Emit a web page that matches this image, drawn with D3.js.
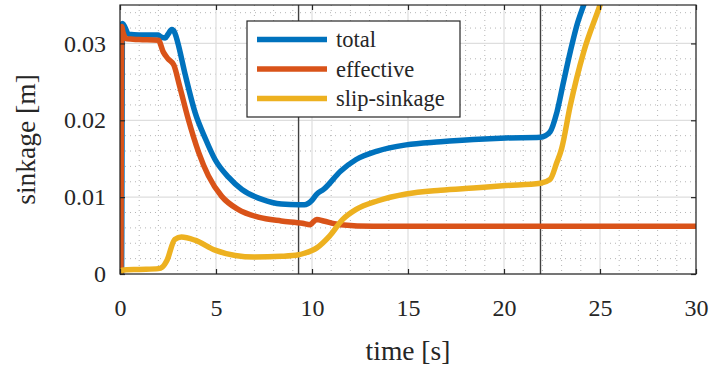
<!DOCTYPE html>
<html>
<head>
<meta charset="utf-8">
<script src="https://cdn.jsdelivr.net/npm/d3@7"></script>
<style>
	body { margin: 0; background: #fff; }
</style>
</head>
<body>
<div id="chart"></div>
<script>
// sinkage over time
const totalTime = [0, 0.08, 0.13, 0.45, 1.0, 2.0, 2.1, 2.35, 2.5, 2.7, 2.85, 3.0, 3.4, 3.9, 4.45, 4.95, 5.65, 6.35, 7.4, 8.4, 9.3, 9.6, 10.0, 10.25, 10.6, 11.5, 12.3, 13.4, 14.9, 16.7, 18.4, 20.1, 21.9, 22.4, 22.75, 23.1, 23.45, 23.8, 24.15, 24.4];
const totalVal = [0, 0, 0.0326, 0.0312, 0.0311, 0.0311, 0.0309, 0.0307, 0.0312, 0.0318, 0.0314, 0.0302, 0.0259, 0.0211, 0.0176, 0.0149, 0.0126, 0.011, 0.0097, 0.0091, 0.009, 0.009, 0.0096, 0.0104, 0.011, 0.0134, 0.0149, 0.016, 0.0168, 0.0172, 0.0175, 0.0177, 0.0178, 0.0185, 0.021, 0.025, 0.0289, 0.0324, 0.035, 0.0368];

const effTime = [0.05, 0.1, 0.15, 0.35, 1.0, 2.0, 2.25, 2.5, 2.8, 3.1, 3.55, 4.1, 4.6, 5.3, 6.15, 7.2, 8.4, 9.5, 9.9, 10.0, 10.25, 10.6, 11.5, 13.2, 16, 20, 25, 30];
const effVal = [0, 0.0322, 0.0315, 0.0306, 0.0305, 0.0304, 0.0289, 0.028, 0.0272, 0.0245, 0.0202, 0.0158, 0.0128, 0.0101, 0.0084, 0.0074, 0.0069, 0.0066, 0.0064, 0.0066, 0.0071, 0.0069, 0.0064, 0.0062, 0.0062, 0.0062, 0.0062, 0.0062];

const slipTime = [0, 0.1, 1.0, 2.0, 2.2, 2.45, 2.85, 3.2, 3.9, 4.95, 6.0, 7.0, 8.4, 9.3, 9.6, 10.25, 10.9, 11.6, 12.3, 13.4, 14.9, 16.7, 18.4, 20.1, 21.9, 22.4, 22.75, 23.0, 23.45, 24.15, 25.0, 25.2];
const slipVal = [0, 0.0005, 0.0006, 0.0007, 0.0009, 0.0018, 0.0045, 0.0048, 0.0044, 0.0031, 0.0024, 0.0022, 0.0023, 0.0025, 0.0027, 0.0034, 0.0049, 0.0071, 0.0084, 0.0095, 0.0104, 0.0109, 0.0112, 0.0115, 0.0118, 0.0123, 0.0145, 0.0163, 0.0219, 0.0289, 0.035, 0.0365];

const seriesNames = ['total', 'effective', 'slip-sinkage'];
const seriesColors = ['#0072BD', '#D95319', '#EDB120'];
const xTicks = [0, 5, 10, 15, 20, 25, 30];
const yTicks = [0, 0.01, 0.02, 0.03];
const markerTimes = [9.3, 21.9]; // the two vertical lines

const FONT = "'Liberation Serif', 'Times New Roman', serif";
const width = 710, height = 367;
const margin = { top: 5, right: 14, bottom: 93, left: 120 };
const iw = width - margin.left - margin.right;
const ih = height - margin.top - margin.bottom;

const svg = d3.select('#chart').append('svg').attr('width', width).attr('height', height);
const g = svg.append('g').attr('transform', `translate(${margin.left},${margin.top})`);

const x = d3.scaleLinear().domain([0, 30]).range([0, iw]);
const y = d3.scaleLinear().domain([0, 0.035]).range([ih, 0]);

// minor grid (dotted)
const xMinor = d3.range(1, 30).filter((d) => d % 5 !== 0);
const yMinor = d3.range(1, 18).map((d) => d * 0.002).filter((d) => Math.round(d * 1000) % 10 !== 0);
g.append('g')
	.selectAll('line')
	.data(xMinor)
	.join('line')
	.attr('x1', (d) => x(d)).attr('x2', (d) => x(d))
	.attr('y1', 0).attr('y2', ih)
	.attr('stroke', '#b5b5b5').attr('stroke-width', 1).attr('stroke-dasharray', '1,4');
g.append('g')
	.selectAll('line')
	.data(yMinor)
	.join('line')
	.attr('x1', 0).attr('x2', iw)
	.attr('y1', (d) => y(d)).attr('y2', (d) => y(d))
	.attr('stroke', '#b5b5b5').attr('stroke-width', 1).attr('stroke-dasharray', '1,4');

// major grid
g.append('g')
	.selectAll('line')
	.data(xTicks)
	.join('line')
	.attr('x1', (d) => x(d)).attr('x2', (d) => x(d))
	.attr('y1', 0).attr('y2', ih)
	.attr('stroke', '#dedede').attr('stroke-width', 1.2);
g.append('g')
	.selectAll('line')
	.data(yTicks)
	.join('line')
	.attr('x1', 0).attr('x2', iw)
	.attr('y1', (d) => y(d)).attr('y2', (d) => y(d))
	.attr('stroke', '#dedede').attr('stroke-width', 1.2);

// vertical marker lines
g.append('g')
	.selectAll('line')
	.data(markerTimes)
	.join('line')
	.attr('x1', (d) => x(d)).attr('x2', (d) => x(d))
	.attr('y1', 0).attr('y2', ih)
	.attr('stroke', '#404040').attr('stroke-width', 1.4);

// curves
svg.append('defs').append('clipPath').attr('id', 'clip')
	.append('rect').attr('width', iw).attr('height', ih);

const series = [
	{ t: totalTime, v: totalVal },
	{ t: effTime, v: effVal },
	{ t: slipTime, v: slipVal }
];
const line = d3.line()
	.x((d) => x(d[0]))
	.y((d) => y(d[1]))
	.curve(d3.curveMonotoneX);

g.append('g')
	.attr('clip-path', 'url(#clip)')
	.selectAll('path')
	.data(series)
	.join('path')
	.attr('d', (s) => line(s.t.map((t, i) => [t, s.v[i]])))
	.attr('fill', 'none')
	.attr('stroke', (s, i) => seriesColors[i])
	.attr('stroke-width', 5.5)
	.attr('stroke-linejoin', 'round')
	.attr('stroke-linecap', 'round');

// axes, ticks pointing inward like matlab
const fmtY = (d) => (d === 0 ? '0' : d3.format('.2f')(d));
g.append('g')
	.attr('transform', `translate(0,${ih})`)
	.call(d3.axisBottom(x).tickValues(xTicks).tickSize(-5).tickSizeOuter(0).tickPadding(25))
	.call((a) => a.select('.domain').remove());
g.append('g')
	.call(d3.axisLeft(y).tickValues(yTicks).tickFormat(fmtY).tickSize(-5).tickSizeOuter(0).tickPadding(14))
	.call((a) => a.select('.domain').remove());
g.append('g')
	.call(d3.axisTop(x).tickValues(xTicks).tickFormat('').tickSize(-5).tickSizeOuter(0))
	.call((a) => a.select('.domain').remove());
g.append('g')
	.attr('transform', `translate(${iw},0)`)
	.call(d3.axisRight(y).tickValues(yTicks).tickFormat('').tickSize(-5).tickSizeOuter(0))
	.call((a) => a.select('.domain').remove());

g.selectAll('.tick line').attr('stroke', '#262626').attr('stroke-width', 1.2);
g.selectAll('.tick text').attr('font-size', 24);

g.append('rect')
	.attr('width', iw).attr('height', ih)
	.attr('fill', 'none').attr('stroke', '#262626').attr('stroke-width', 1.2);

// axis labels
svg.append('text')
	.attr('x', margin.left + iw / 2)
	.attr('y', 360)
	.attr('text-anchor', 'middle')
	.attr('font-size', 27.5)
	.text('time [s]');
svg.append('text')
	.attr('transform', `translate(35,${margin.top + ih / 2}) rotate(-90)`)
	.attr('text-anchor', 'middle')
	.attr('font-size', 27.5)
	.text('sinkage [m]');

// legend
const legend = svg.append('g').attr('transform', 'translate(247,21)');
legend.append('rect')
	.attr('width', 213).attr('height', 96)
	.attr('fill', '#fff').attr('stroke', '#262626').attr('stroke-width', 1.2);
const items = legend.selectAll('g.item')
	.data(seriesNames)
	.join('g')
	.attr('class', 'item')
	.attr('transform', (d, i) => `translate(0,${18.5 + i * 29.5})`);
items.append('line')
	.attr('x1', 10).attr('x2', 80)
	.attr('stroke', (d, i) => seriesColors[i])
	.attr('stroke-width', 5.5);
items.append('text')
	.attr('x', 89)
	.attr('dy', '0.35em')
	.attr('font-size', 22.5)
	.text((d) => d);

// serif everywhere, also over d3's axis defaults
svg.selectAll('g').attr('font-family', null);
svg.selectAll('text').style('font-family', FONT).attr('fill', '#262626');
</script>
</body>
</html>
